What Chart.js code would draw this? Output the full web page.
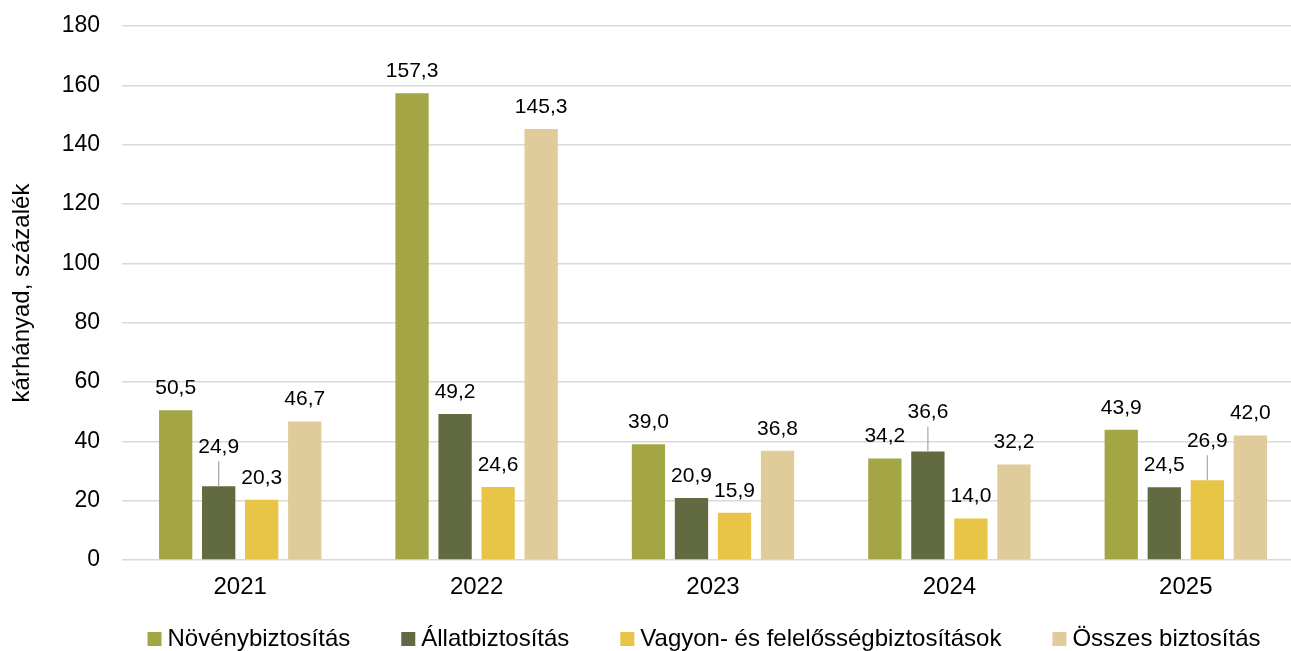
<!DOCTYPE html>
<html><head><meta charset="utf-8">
<script src="https://cdn.jsdelivr.net/npm/chart.js@4.4.1/dist/chart.umd.min.js"></script>
<style>
html,body{margin:0;padding:0;background:#fff;overflow:hidden;width:1291px;height:651px}
#wrap{position:absolute;left:0;top:0;width:1304px;height:651px}
</style></head>
<body><div id="wrap"><canvas id="c" width="1304" height="651"></canvas></div>
<script>
const categories = ['2021', '2022', '2023', '2024', '2025'];
const seriesNames = ['Növénybiztosítás', 'Állatbiztosítás', 'Vagyon- és felelősségbiztosítások', 'Összes biztosítás'];
const novenyValues = [50.5, 157.3, 39.0, 34.2, 43.9];
const allatValues = [24.9, 49.2, 20.9, 36.6, 24.5];
const vagyonValues = [20.3, 24.6, 15.9, 14.0, 26.9];
const osszesValues = [46.7, 145.3, 36.8, 32.2, 42.0];
const yTicks = [0, 20, 40, 60, 80, 100, 120, 140, 160, 180];
const yTitle = 'kárhányad, százalék';

const FONT = '"Liberation Sans", Arial, sans-serif';
const colors = ['#a4a646', '#626a41', '#e8c447', '#e0cc9a'];
// labels drawn with a leader line (dataset-index)
const leaderKeys = ['1-0', '1-3', '2-4'];

const labelPlugin = {
  id: 'barLabels',
  afterDatasetsDraw(chart) {
    const ctx = chart.ctx;
    ctx.save();
    ctx.font = '21px ' + FONT;
    ctx.textAlign = 'center';
    ctx.textBaseline = 'middle';
    chart.data.datasets.forEach((ds, di) => {
      const meta = chart.getDatasetMeta(di);
      meta.data.forEach((bar, i) => {
        const lead = leaderKeys.includes(di + '-' + i);
        const ty = bar.y - (lead ? 39 : 22);
        if (lead) {
          ctx.strokeStyle = '#a6a6a6';
          ctx.lineWidth = 1.2;
          ctx.beginPath();
          ctx.moveTo(bar.x, bar.y);
          ctx.lineTo(bar.x, ty + 14);
          ctx.stroke();
        }
        ctx.fillStyle = '#000';
        ctx.fillText(ds.data[i].toFixed(1).replace('.', ','), bar.x, ty);
      });
    });
    ctx.restore();
  }
};

const legendPlugin = {
  id: 'customLegend',
  afterDraw(chart, args, opts) {
    const ctx = chart.ctx;
    ctx.save();
    ctx.font = '24px ' + FONT;
    const items = chart.data.datasets.map(d => ({ text: d.label, color: d.backgroundColor, w: ctx.measureText(d.label).width }));
    const box = 14, gap = 6, spacing = 51;
    const total = items.reduce((s, it) => s + box + gap + it.w, 0) + spacing * (items.length - 1);
    let x = opts.centerX - total / 2;
    const y = opts.y;
    ctx.textBaseline = 'middle';
    ctx.textAlign = 'left';
    items.forEach(it => {
      ctx.fillStyle = it.color;
      ctx.fillRect(x, y - 7, box, box);
      ctx.fillStyle = '#000';
      ctx.fillText(it.text, x + box + gap, y);
      x += box + gap + it.w + spacing;
    });
    ctx.restore();
  }
};

const seriesValues = [novenyValues, allatValues, vagyonValues, osszesValues];

new Chart(document.getElementById('c'), {
  type: 'bar',
  data: {
    labels: categories,
    datasets: seriesNames.map((name, k) => ({
      label: name,
      data: seriesValues[k],
      backgroundColor: colors[k],
      borderWidth: 0,
      categoryPercentage: 0.728,
      barPercentage: 0.774
    }))
  },
  options: {
    responsive: false,
    animation: false,
    layout: { padding: { top: 26, right: 0, bottom: 41, left: 0 } },
    plugins: {
      legend: { display: false },
      tooltip: { enabled: false },
      customLegend: { centerX: 704, y: 639 }
    },
    scales: {
      x: {
        grid: { display: false, drawTicks: false },
        border: { display: false },
        ticks: { font: { size: 24, family: FONT }, color: '#000', padding: 13 },
        afterFit(s) { s.height = 50; s.paddingLeft = 0; s.paddingRight = 0; }
      },
      y: {
        min: 0, max: 180,
        afterBuildTicks(s) { s.ticks = yTicks.map(v => ({ value: v })); },
        ticks: { font: { size: 23, family: FONT }, color: '#000', padding: 22 },
        grid: { color: '#d9d9d9', lineWidth: 1.5, drawTicks: false },
        border: { display: false },
        title: { display: true, text: yTitle, font: { size: 24, family: FONT }, color: '#000', padding: { top: 8, bottom: 0 } },
        afterFit(s) { s.width = 122; s.paddingTop = 0; s.paddingBottom = 0; }
      }
    }
  },
  plugins: [labelPlugin, legendPlugin]
});
</script>
</body></html>
